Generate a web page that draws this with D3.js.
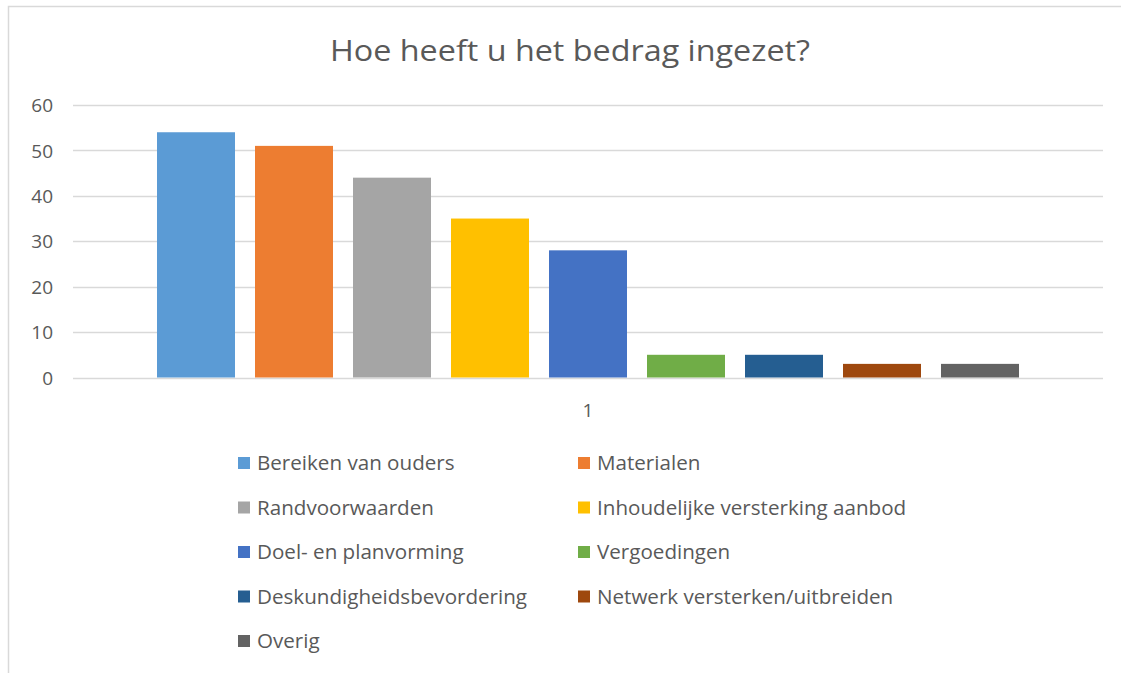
<!DOCTYPE html>
<html><head><meta charset="utf-8">
<script src="https://cdn.jsdelivr.net/npm/d3@7"></script>
<style>html,body{margin:0;padding:0;background:#fff;}svg{display:block;}</style>
</head><body>
<svg id="chart" width="1121" height="673"></svg>
<script>
const title = "Hoe heeft u het bedrag ingezet?";
const categories = ["1"];
const seriesNames = ["Bereiken van ouders","Materialen","Randvoorwaarden","Inhoudelijke versterking aanbod","Doel- en planvorming","Vergoedingen","Deskundigheidsbevordering","Netwerk versterken/uitbreiden","Overig"];
const seriesValues = [54,51,44,35,28,5,5,3,3];
const seriesColors = ["#5B9BD5","#ED7D31","#A5A5A5","#FFC000","#4472C4","#70AD47","#255E91","#9E480E","#636363"];
const yTicks = [0,10,20,30,40,50,60];

const FONT = "'Open Sans', 'Noto Sans', sans-serif";
const svg = d3.select("#chart");

// chart border
svg.append("rect").attr("x",8.5).attr("y",6.5).attr("width",1130).attr("height",700)
  .attr("fill","#fff").attr("stroke","#d9d9d9").attr("stroke-width",1.5);

svg.append("text").attr("x",570).attr("y",61).attr("text-anchor","middle")
  .attr("font-family",FONT).attr("font-size",29.5).attr("fill","#595959")
  .attr("textLength",480).attr("lengthAdjust","spacingAndGlyphs").text(title);

const plot = {l:73, r:1103, t:105, b:377.5};
const y = d3.scaleLinear().domain([0,60]).range([plot.b, plot.t]);
const x0 = d3.scaleBand().domain(categories).range([plot.l, plot.r]).paddingInner(0).paddingOuter(0);
const gw = 862;
const x1 = d3.scaleBand().domain(seriesNames)
  .range([x0(categories[0]) + (x0.bandwidth()-gw)/2, x0(categories[0]) + (x0.bandwidth()+gw)/2])
  .paddingInner(20/98).paddingOuter(0);

// gridlines
svg.append("g").selectAll("line").data(yTicks).join("line")
  .attr("x1",plot.l).attr("x2",plot.r)
  .attr("y1",d=>Math.round(y(d))+0.5).attr("y2",d=>Math.round(y(d))+0.5)
  .attr("stroke","#d9d9d9").attr("stroke-width",1.3);

// y axis labels
const yAxis = d3.axisLeft(y).tickValues(yTicks).tickSize(0).tickPadding(0);
const ga = svg.append("g").attr("transform","translate(53,0)").call(yAxis);
ga.select(".domain").remove();
ga.selectAll("text").attr("font-family",FONT).attr("font-size",19).attr("fill","#595959").attr("dy","0.35em");

// bars
svg.append("g").selectAll("rect").data(seriesNames).join("rect")
  .attr("x",d=>x1(d)).attr("width",x1.bandwidth())
  .attr("y",(d,i)=>y(seriesValues[i])).attr("height",(d,i)=>y(0)-y(seriesValues[i]))
  .attr("fill",(d,i)=>seriesColors[i]);

// category axis label
const xAxis = d3.axisBottom(x0).tickSize(0).tickPadding(0);
const gx = svg.append("g").attr("transform",`translate(0,${plot.b})`).call(xAxis);
gx.select(".domain").remove();
gx.selectAll("text").attr("font-family",FONT).attr("font-size",19).attr("fill","#595959").attr("dy","0").attr("y",39);

// legend
const legendX = [238, 578], rowY0 = 463, rowStep = 44.5;
const lg = svg.append("g").selectAll("g").data(seriesNames).join("g")
  .attr("transform",(d,i)=>`translate(${legendX[i%2]},${rowY0 + Math.floor(i/2)*rowStep})`);
lg.append("rect").attr("x",0).attr("y",-6).attr("width",12).attr("height",12).attr("fill",(d,i)=>seriesColors[i]);
lg.append("text").attr("x",19).attr("y",0).attr("dy","0.35em")
  .attr("font-family",FONT).attr("font-size",20.6).attr("fill","#595959").text(d=>d);
</script>
</body></html>
